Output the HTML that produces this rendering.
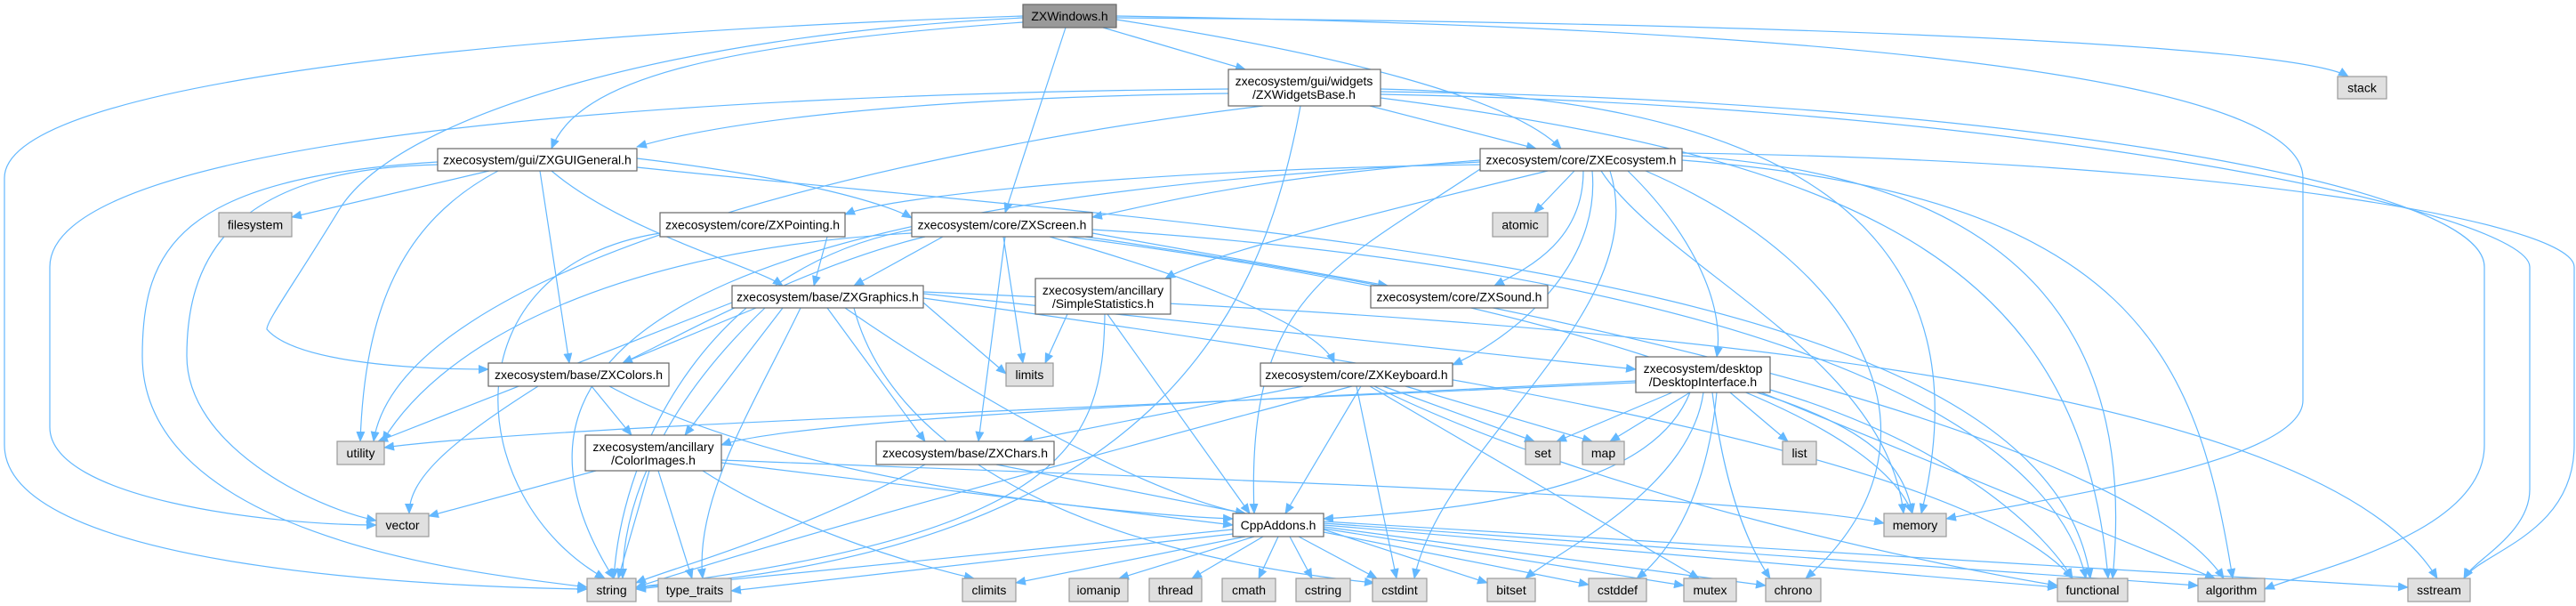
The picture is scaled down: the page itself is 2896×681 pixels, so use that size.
<!DOCTYPE html>
<html><head><meta charset="utf-8"><style>
html,body{margin:0;padding:0;background:#fff;}
svg{display:block}
text{font-family:"Liberation Sans",sans-serif;font-size:14px;fill:#000;text-anchor:middle;dominant-baseline:central}
.e{fill:none;stroke:#63b8ff;stroke-width:1.2}
.n{fill:#fff;stroke:#666;stroke-width:1.2}
.s{fill:#e0e0e0;stroke:#999;stroke-width:1.2}
</style></head><body>
<svg width="2896" height="681" viewBox="0 0 2896 681" xmlns="http://www.w3.org/2000/svg">
<defs><marker id="a" markerUnits="userSpaceOnUse" markerWidth="12" markerHeight="10" refX="11" refY="5" orient="auto"><path d="M0,0 L12,5 L0,10 z" fill="#63b8ff"/></marker></defs>
<g class="e" marker-end="url(#a)">
<path d="M1150,25 C800,50 650,90 620,167"/>
<path d="M1240,31 L1400,78"/>
<path d="M1255,22 C1500,60 1700,110 1755,167"/>
<path d="M1198,31 L1130,239"/>
<path d="M1150,20 C750,40 450,130 383,233 C330,320 300,360 300,370 C330,405 450,415 549,415"/>
<path d="M1150,18 C500,40 5,100 5,200 L5,500 C5,640 500,660 660,662"/>
<path d="M1255,18 C2000,30 2589,80 2589,200 L2589,450 C2589,520 2300,560 2188,583"/>
<path d="M1255,20 C2000,25 2580,50 2640,86"/>
<path d="M1381,105 C1000,110 800,140 716,165"/>
<path d="M1540,119 L1727,167"/>
<path d="M1381,100 C800,105 56,150 56,300 L56,480 C56,560 300,590 423,590"/>
<path d="M1420,119 C1000,170 450,300 420,496"/>
<path d="M1462,119 C1420,350 1300,620 715,660"/>
<path d="M1552,100 C2000,110 2240,250 2160,577"/>
<path d="M1552,103 C2200,110 2793,200 2793,300 L2793,500 C2793,600 2600,640 2546,662"/>
<path d="M1552,106 C2300,120 2844,240 2844,300 L2844,550 C2844,600 2780,630 2770,650"/>
<path d="M1552,110 C2100,180 2340,300 2370,650"/>
<path d="M550,192 L328,244"/>
<path d="M716,178 C900,200 1000,230 1025,245"/>
<path d="M620,192 C700,260 850,300 880,321"/>
<path d="M607,192 L640,408"/>
<path d="M560,192 C450,250 410,350 405,496"/>
<path d="M492,185 C250,190 210,300 210,400 C210,500 350,570 423,585"/>
<path d="M492,182 C200,200 160,280 160,400 C160,620 600,650 660,660"/>
<path d="M716,188 C1400,260 2300,300 2350,650"/>
<path d="M1664,180 C1400,200 1300,230 1228,244"/>
<path d="M1664,185 C1300,190 1000,220 950,241"/>
<path d="M1770,192 L1725,239"/>
<path d="M1780,192 C1780,270 1720,300 1680,321"/>
<path d="M1790,192 C1800,300 1700,380 1633,410"/>
<path d="M1830,192 C1900,260 1940,340 1930,401"/>
<path d="M1740,192 C1500,250 1350,290 1310,313"/>
<path d="M1664,190 C1500,300 1400,330 1410,577"/>
<path d="M1810,192 C1860,350 1620,500 1590,650"/>
<path d="M1800,192 C1870,300 2120,400 2140,577"/>
<path d="M1891,175 C2300,200 2400,400 2375,650"/>
<path d="M1850,192 C2100,300 2200,500 2030,650"/>
<path d="M1891,180 C2400,220 2470,400 2510,650"/>
<path d="M1664,182 C900,220 500,350 690,650"/>
<path d="M1891,172 C2500,180 2894,250 2894,300 L2894,500 C2894,600 2790,620 2770,650"/>
<path d="M1060,266 L960,321"/>
<path d="M1040,266 C900,300 760,380 700,408"/>
<path d="M1130,266 L1100,496"/>
<path d="M1180,266 C1300,300 1480,360 1500,408"/>
<path d="M1228,262 L1560,321"/>
<path d="M1128,266 L1150,408"/>
<path d="M1025,258 C800,300 700,500 690,650"/>
<path d="M1025,262 C700,280 500,380 430,496"/>
<path d="M1228,258 C1900,300 2300,450 2345,650"/>
<path d="M1220,266 C1800,350 2400,500 2500,650"/>
<path d="M1200,266 C1700,330 2100,450 2150,577"/>
<path d="M930,266 L915,321"/>
<path d="M742,262 C500,300 520,560 680,650"/>
<path d="M850,346 L700,408"/>
<path d="M880,346 L770,489"/>
<path d="M930,346 L1040,496"/>
<path d="M950,346 C1100,450 1300,560 1400,577"/>
<path d="M1038,340 L1131,420"/>
<path d="M823,340 L425,496"/>
<path d="M860,346 C750,450 700,560 700,650"/>
<path d="M900,346 C850,450 780,560 790,650"/>
<path d="M960,346 C1000,500 1200,620 1545,655"/>
<path d="M1038,330 L1839,415"/>
<path d="M1038,335 C1500,400 2200,500 2330,650"/>
<path d="M1038,328 C1800,360 2600,420 2740,650"/>
<path d="M1200,353 L1175,408"/>
<path d="M1245,353 L1405,577"/>
<path d="M1242,353 C1240,500 1200,600 715,660"/>
<path d="M665,434 L710,489"/>
<path d="M605,434 C500,500 460,540 460,577"/>
<path d="M685,434 C900,550 1300,580 1386,583"/>
<path d="M1465,434 L1150,496"/>
<path d="M1530,434 L1445,577"/>
<path d="M1555,434 L1725,496"/>
<path d="M1580,434 L1790,496"/>
<path d="M1520,434 C1200,520 900,600 715,660"/>
<path d="M1525,434 L1570,650"/>
<path d="M1545,434 C1800,560 2200,640 2313,658"/>
<path d="M1540,434 L1910,650"/>
<path d="M1839,428 C1400,450 900,470 811,500"/>
<path d="M1839,430 C1200,460 600,480 432,503"/>
<path d="M1880,441 L1750,496"/>
<path d="M1900,441 L1810,496"/>
<path d="M1945,441 L2010,496"/>
<path d="M1975,441 C2100,480 2140,520 2150,577"/>
<path d="M1990,438 C2200,500 2300,600 2330,650"/>
<path d="M1980,441 L2490,650"/>
<path d="M1930,441 C1920,550 1880,620 1840,650"/>
<path d="M1915,441 C1900,550 1750,620 1715,650"/>
<path d="M1925,441 C1940,560 1970,620 1990,650"/>
<path d="M1900,441 C1860,540 1700,570 1488,583"/>
<path d="M670,529 L482,580"/>
<path d="M730,529 L695,650"/>
<path d="M740,529 L778,650"/>
<path d="M811,520 L1386,590"/>
<path d="M790,529 C900,600 1050,640 1095,650"/>
<path d="M811,517 C1400,540 2000,560 2118,588"/>
<path d="M1120,522 L1400,577"/>
<path d="M1040,522 C900,600 750,640 715,655"/>
<path d="M1386,595 L715,662"/>
<path d="M1386,600 L822,664"/>
<path d="M1400,603 L1142,655"/>
<path d="M1410,603 L1258,650"/>
<path d="M1420,603 L1340,650"/>
<path d="M1437,603 L1415,650"/>
<path d="M1450,603 L1475,650"/>
<path d="M1460,603 L1548,650"/>
<path d="M1488,595 L1672,655"/>
<path d="M1488,598 L1786,657"/>
<path d="M1488,594 L1893,658"/>
<path d="M1488,592 L1985,658"/>
<path d="M1488,590 L2313,660"/>
<path d="M1488,588 L2471,658"/>
<path d="M1488,586 L2707,660"/>
</g>
<rect x="1150" y="5" width="105" height="26" fill="#999" stroke="#666" stroke-width="1.2"/><text x="1202.5" y="18">ZXWindows.h</text>
<rect class="n" x="1381" y="78" width="171" height="41"/><text x="1466" y="91">zxecosystem/gui/widgets</text><text x="1466" y="106">/ZXWidgetsBase.h</text>
<rect class="n" x="492" y="167" width="224" height="25"/><text x="604" y="179.5">zxecosystem/gui/ZXGUIGeneral.h</text>
<rect class="n" x="1664" y="167" width="227" height="25"/><text x="1777.5" y="179.5">zxecosystem/core/ZXEcosystem.h</text>
<rect class="s" x="246" y="239" width="82" height="27"/><text x="287" y="252.5">filesystem</text>
<rect class="n" x="742" y="239" width="208" height="27"/><text x="846" y="252.5">zxecosystem/core/ZXPointing.h</text>
<rect class="n" x="1025" y="239" width="203" height="27"/><text x="1126.5" y="252.5">zxecosystem/core/ZXScreen.h</text>
<rect class="s" x="1678" y="239" width="62" height="27"/><text x="1709" y="252.5">atomic</text>
<rect class="n" x="823" y="321" width="215" height="25"/><text x="930.5" y="333.5">zxecosystem/base/ZXGraphics.h</text>
<rect class="n" x="1164" y="313" width="152" height="40"/><text x="1240" y="326">zxecosystem/ancillary</text><text x="1240" y="341">/SimpleStatistics.h</text>
<rect class="n" x="1541" y="321" width="199" height="25"/><text x="1640.5" y="333.5">zxecosystem/core/ZXSound.h</text>
<rect class="n" x="549" y="408" width="203" height="26"/><text x="650.5" y="421">zxecosystem/base/ZXColors.h</text>
<rect class="s" x="1131" y="408" width="53" height="26"/><text x="1157.5" y="421">limits</text>
<rect class="n" x="1417" y="408" width="216" height="26"/><text x="1525" y="421">zxecosystem/core/ZXKeyboard.h</text>
<rect class="n" x="1839" y="401" width="151" height="40"/><text x="1914.5" y="414">zxecosystem/desktop</text><text x="1914.5" y="429">/DesktopInterface.h</text>
<rect class="s" x="379" y="496" width="53" height="26"/><text x="405.5" y="509">utility</text>
<rect class="n" x="658" y="489" width="153" height="40"/><text x="734.5" y="502">zxecosystem/ancillary</text><text x="734.5" y="517">/ColorImages.h</text>
<rect class="n" x="985" y="496" width="200" height="26"/><text x="1085" y="509">zxecosystem/base/ZXChars.h</text>
<rect class="s" x="1715" y="496" width="39" height="26"/><text x="1734.5" y="509">set</text>
<rect class="s" x="1779" y="496" width="47" height="26"/><text x="1802.5" y="509">map</text>
<rect class="s" x="2004" y="496" width="38" height="26"/><text x="2023" y="509">list</text>
<rect class="s" x="423" y="577" width="59" height="26"/><text x="452.5" y="590">vector</text>
<rect class="n" x="1386" y="577" width="102" height="26"/><text x="1437" y="590">CppAddons.h</text>
<rect class="s" x="2118" y="577" width="70" height="26"/><text x="2153" y="590">memory</text>
<rect class="s" x="2628" y="86" width="55" height="25"/><text x="2655.5" y="98.5">stack</text>
<rect class="s" x="660" y="650" width="55" height="26"/><text x="687.5" y="663">string</text>
<rect class="s" x="740" y="650" width="82" height="26"/><text x="781" y="663">type_traits</text>
<rect class="s" x="1082" y="650" width="60" height="26"/><text x="1112" y="663">climits</text>
<rect class="s" x="1202" y="650" width="66" height="26"/><text x="1235" y="663">iomanip</text>
<rect class="s" x="1292" y="650" width="59" height="26"/><text x="1321.5" y="663">thread</text>
<rect class="s" x="1374" y="650" width="60" height="26"/><text x="1404" y="663">cmath</text>
<rect class="s" x="1457" y="650" width="61" height="26"/><text x="1487.5" y="663">cstring</text>
<rect class="s" x="1543" y="650" width="61" height="26"/><text x="1573.5" y="663">cstdint</text>
<rect class="s" x="1672" y="650" width="54" height="26"/><text x="1699" y="663">bitset</text>
<rect class="s" x="1786" y="650" width="65" height="26"/><text x="1818.5" y="663">cstddef</text>
<rect class="s" x="1893" y="650" width="59" height="26"/><text x="1922.5" y="663">mutex</text>
<rect class="s" x="1985" y="650" width="62" height="26"/><text x="2016" y="663">chrono</text>
<rect class="s" x="2313" y="650" width="79" height="26"/><text x="2352.5" y="663">functional</text>
<rect class="s" x="2471" y="650" width="75" height="26"/><text x="2508.5" y="663">algorithm</text>
<rect class="s" x="2707" y="650" width="70" height="26"/><text x="2742" y="663">sstream</text>
</svg>
</body></html>
